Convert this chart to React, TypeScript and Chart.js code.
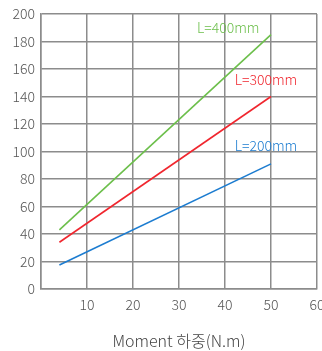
import React, { useEffect, useRef } from "react";
import { Chart, registerables } from "chart.js";

Chart.register(...registerables);

const xTicks = [0, 10, 20, 30, 40, 50, 60];
const yTicks = [0, 20, 40, 60, 80, 100, 120, 140, 160, 180, 200];
const seriesNames = ["L=400mm", "L=300mm", "L=200mm"];
const seriesColors = ["#6cbf4b", "#f0262e", "#1c7cd0"];
const xValues = [4, 50];
const l400 = [43, 185];
const l300 = [34, 140];
const l200 = [17.5, 91];
const labelX = [40.7, 48.9, 48.9];
const labelY = [190, 152, 104.5];
const xTitle = "Moment 하중(N.m)";

const FONT = "'Noto Sans CJK KR', 'Noto Sans', sans-serif";

const labelPlugin = {
  id: "seriesLabels",
  afterDatasetsDraw(chart: any) {
    const { ctx, scales } = chart;
    ctx.save();
    ctx.font = `300 14px ${FONT}`;
    ctx.textAlign = "center";
    ctx.textBaseline = "middle";
    seriesNames.forEach((n, i) => {
      ctx.fillStyle = seriesColors[i];
      ctx.fillText(n, scales.x.getPixelForValue(labelX[i]), scales.y.getPixelForValue(labelY[i]));
    });
    ctx.restore();
  },
};

export default function App() {
  const ref = useRef<HTMLCanvasElement>(null);
  useEffect(() => {
    const series = [l400, l300, l200];
    const chart = new Chart(ref.current!, {
      type: "line",
      data: {
        datasets: series.map((s, i) => ({
          label: seriesNames[i],
          data: s.map((v, j) => ({ x: xValues[j], y: v })),
          borderColor: seriesColors[i],
          borderWidth: 1.6,
          pointRadius: 0,
          fill: false,
        })),
      },
      options: {
        animation: false,
        responsive: true,
        maintainAspectRatio: false,
        layout: { padding: { left: 0, right: 5, top: 14, bottom: 0 } },
        plugins: { legend: { display: false }, tooltip: { enabled: false } },
        scales: {
          x: {
            type: "linear",
            min: 0,
            max: 60,
            afterBuildTicks: (s: any) => {
              s.ticks = xTicks.map((v) => ({ value: v }));
            },
            afterFit: (s: any) => {
              s.height = 62;
              s.paddingRight = 0;
              s.paddingLeft = 0;
            },
            ticks: {
              color: "#555",
              font: { family: FONT, size: 14, weight: "300" },
              padding: 7,
              callback: (v: any) => (v === 0 ? "" : String(v)),
            },
            grid: { color: "#8c8c8c", lineWidth: 1.5, drawTicks: false },
            border: { color: "#8c8c8c", width: 1.5 },
            title: {
              display: true,
              text: xTitle,
              color: "#444",
              font: { family: FONT, size: 16, weight: "300" },
              padding: { top: 14, bottom: 0 },
            },
          },
          y: {
            type: "linear",
            min: 0,
            max: 200,
            afterBuildTicks: (s: any) => {
              s.ticks = yTicks.map((v) => ({ value: v }));
            },
            afterFit: (s: any) => {
              s.width = 41;
              s.paddingTop = 0;
              s.paddingBottom = 0;
            },
            ticks: {
              color: "#555",
              font: { family: FONT, size: 14, weight: "300" },
              padding: 6,
            },
            grid: { color: "#8c8c8c", lineWidth: 1.5, drawTicks: false },
            border: { color: "#8c8c8c", width: 1.5 },
          },
        },
      },
      plugins: [labelPlugin],
    } as any);
    return () => chart.destroy();
  }, []);
  return (
    <div style={{ position: "fixed", left: 0, top: 0, width: 322, height: 351 }}>
      <canvas ref={ref} />
    </div>
  );
}
